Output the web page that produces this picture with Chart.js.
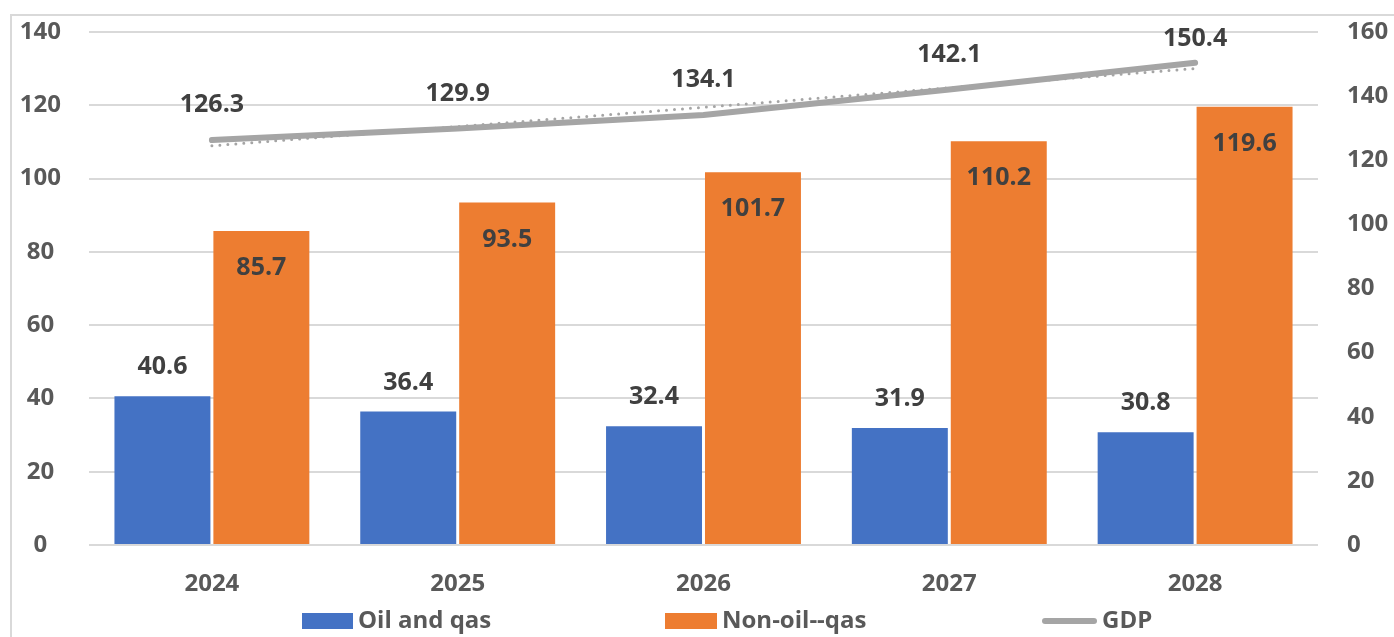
<!DOCTYPE html>
<html>
<head>
<meta charset="utf-8">
<title>GDP structure 2024–2028</title>
<script src="https://cdn.jsdelivr.net/npm/chart.js@4.4.1/dist/chart.umd.min.js"></script>
<style>
  html, body { margin: 0; padding: 0; background: #ffffff; overflow: hidden; }
  #wrap { position: relative; width: 1394px; height: 637px; }
  #chart { position: absolute; left: 0; top: 0; }
  #frame {
    position: absolute; left: 10px; top: 14px; width: 1500px; height: 700px;
    border: 2px solid #D9D9D9; pointer-events: none; box-sizing: border-box;
  }
</style>
</head>
<body>
<div id="wrap">
  <canvas id="chart" width="1394" height="637"></canvas>
  <div id="frame"></div>
</div>
<script>
// Categories and series
const years = ['2024', '2025', '2026', '2027', '2028'];
const oilGas = [40.6, 36.4, 32.4, 31.9, 30.8];
const nonOilGas = [85.7, 93.5, 101.7, 110.2, 119.6];
const gdp = [126.3, 129.9, 134.1, 142.1, 150.4];
const gdpTrend = [124.5, 130.5, 136.5, 142.6, 148.6];

// Axis ticks
const leftTicks = [0, 20, 40, 60, 80, 100, 120, 140];
const rightTicks = [0, 20, 40, 60, 80, 100, 120, 140, 160];

const seriesNames = ['Oil and qas', 'Non-oil--qas', 'GDP'];

const BLUE = '#4472C4';
const ORANGE = '#ED7D31';
const GREY = '#A5A5A5';
const TICK_COLOR = '#595959';
const LABEL_COLOR = '#404040';
const FONT = '"Open Sans"';
const FONT_SIZE = 24;
const LABEL_SIZE = 25;

Chart.defaults.font.family = FONT;
Chart.defaults.font.weight = 'bold';
Chart.defaults.font.size = FONT_SIZE;
Chart.defaults.color = TICK_COLOR;

// Value labels: above the blue bars, inside the top of the orange bars, above the GDP points
const valueLabels = {
  id: 'valueLabels',
  afterDatasetsDraw(chart) {
    const ctx = chart.ctx;
    const area = chart.chartArea;
    ctx.save();
    ctx.font = `bold ${LABEL_SIZE}px ${FONT}`;
    ctx.fillStyle = LABEL_COLOR;
    ctx.textAlign = 'center';
    ctx.textBaseline = 'middle';
    chart.data.datasets.forEach((ds, i) => {
      if (!ds.labelMode) return;
      const meta = chart.getDatasetMeta(i);
      meta.data.forEach((el, j) => {
        const v = ds.data[j];
        let y;
        if (ds.labelMode === 'above') y = el.y - 29;
        else if (ds.labelMode === 'inside') y = el.y + 37;
        else y = Math.max(el.y - 35, area.top + 7);
        ctx.fillText(v.toFixed(1), el.x, y);
      });
    });
    ctx.restore();
  }
};

// Legend row under the axis labels
const legendRow = {
  id: 'legendRow',
  afterDraw(chart) {
    const ctx = chart.ctx;
    const items = [
      { name: seriesNames[0], color: BLUE, kind: 'box', x: 302, w: 51 },
      { name: seriesNames[1], color: ORANGE, kind: 'box', x: 665, w: 52 },
      { name: seriesNames[2], color: GREY, kind: 'line', x: 1042, w: 55 }
    ];
    const cy = 621;
    ctx.save();
    ctx.font = `bold ${FONT_SIZE}px ${FONT}`;
    ctx.textAlign = 'left';
    ctx.textBaseline = 'middle';
    items.forEach(it => {
      if (it.kind === 'box') {
        ctx.fillStyle = it.color;
        ctx.fillRect(it.x, cy - 8, it.w, 16);
      } else {
        ctx.strokeStyle = it.color;
        ctx.lineWidth = 6;
        ctx.lineCap = 'round';
        ctx.beginPath();
        ctx.moveTo(it.x + 3, cy);
        ctx.lineTo(it.x + it.w - 3, cy);
        ctx.stroke();
      }
      ctx.fillStyle = TICK_COLOR;
      ctx.fillText(it.name, it.x + it.w + 5, cy);
    });
    ctx.restore();
  }
};

// Vertical axes keep their label padding out of the plot-area layout
function fixVerticalAxis(width) {
  return function (s) {
    s.width = width;
    s.paddingTop = 0;
    s.paddingBottom = 0;
  };
}

new Chart(document.getElementById('chart'), {
  data: {
    labels: years,
    datasets: [
      {
        type: 'line',
        label: seriesNames[2],
        data: gdp,
        yAxisID: 'y2',
        borderColor: GREY,
        borderWidth: 6,
        borderCapStyle: 'round',
        pointRadius: 0,
        tension: 0,
        order: 0,
        labelMode: 'point'
      },
      {
        type: 'line',
        label: 'GDP trend',
        data: gdpTrend,
        yAxisID: 'y2',
        borderColor: GREY,
        borderWidth: 3,
        borderDash: [0, 8],
        borderCapStyle: 'round',
        pointRadius: 0,
        tension: 0,
        order: 1
      },
      {
        type: 'bar',
        label: seriesNames[0],
        data: oilGas,
        yAxisID: 'y',
        backgroundColor: BLUE,
        barPercentage: 0.97,
        categoryPercentage: 0.805,
        order: 2,
        labelMode: 'above'
      },
      {
        type: 'bar',
        label: seriesNames[1],
        data: nonOilGas,
        yAxisID: 'y',
        backgroundColor: ORANGE,
        barPercentage: 0.97,
        categoryPercentage: 0.805,
        order: 2,
        labelMode: 'inside'
      }
    ]
  },
  options: {
    responsive: false,
    devicePixelRatio: 1,
    animation: false,
    layout: { padding: { top: 32, bottom: 0, left: 0, right: 0 } },
    plugins: {
      legend: { display: false },
      tooltip: { enabled: false }
    },
    scales: {
      x: {
        grid: { display: false },
        border: { display: false },
        ticks: { color: TICK_COLOR, padding: 17, font: { size: FONT_SIZE, weight: 'bold' } },
        afterFit(s) { s.height = 92; }
      },
      y: {
        position: 'left',
        min: 0,
        max: 140,
        afterBuildTicks(s) { s.ticks = leftTicks.map(v => ({ value: v })); },
        grid: { color: '#D9D9D9', lineWidth: 2, drawTicks: false },
        border: { display: false },
        ticks: { color: TICK_COLOR, padding: 28, crossAlign: 'center', font: { size: FONT_SIZE, weight: 'bold' } },
        afterFit: fixVerticalAxis(89)
      },
      y2: {
        position: 'right',
        min: 0,
        max: 160,
        afterBuildTicks(s) { s.ticks = rightTicks.map(v => ({ value: v })); },
        grid: { display: false, drawTicks: false },
        border: { display: false },
        ticks: { color: TICK_COLOR, padding: 29, crossAlign: 'near', font: { size: FONT_SIZE, weight: 'bold' } },
        afterFit: fixVerticalAxis(76)
      }
    }
  },
  plugins: [valueLabels, legendRow]
});
</script>
</body>
</html>
